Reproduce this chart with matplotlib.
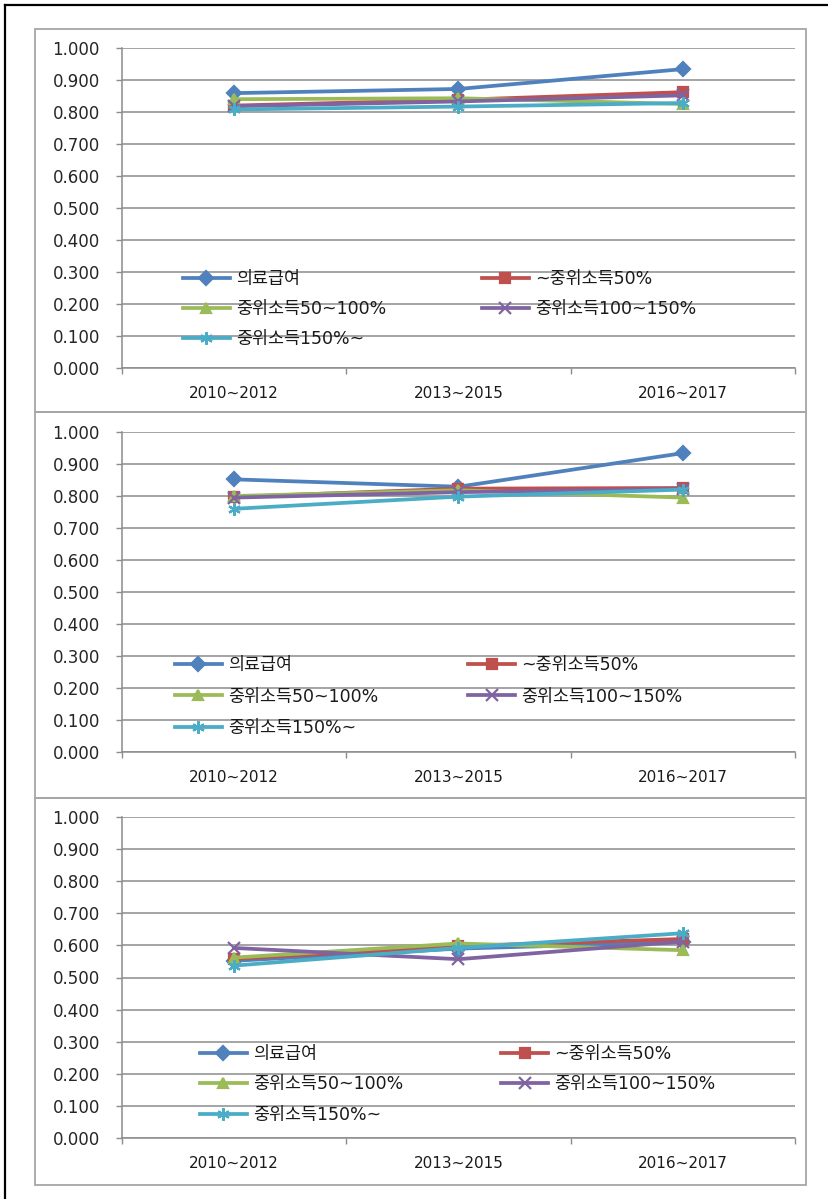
import matplotlib
matplotlib.use("Agg")
import matplotlib.pyplot as plt
from matplotlib.lines import Line2D
from matplotlib.patches import Rectangle
from matplotlib.ticker import FixedLocator, FormatStrFormatter

# ---- data -------------------------------------------------------------
periods = ["2010~2012", "2013~2015", "2016~2017"]
series_names = ["의료급여", "~중위소득50%", "중위소득50~100%",
                "중위소득100~150%", "중위소득150%~"]

panel1_medical = [0.859, 0.872, 0.934]
panel1_low = [0.820, 0.838, 0.862]
panel1_mid = [0.840, 0.843, 0.825]
panel1_upper = [0.818, 0.833, 0.852]
panel1_high = [0.808, 0.817, 0.828]

panel2_medical = [0.852, 0.829, 0.934]
panel2_low = [0.797, 0.823, 0.825]
panel2_mid = [0.800, 0.818, 0.795]
panel2_upper = [0.795, 0.812, 0.822]
panel2_high = [0.760, 0.798, 0.820]

panel3_medical = [0.552, 0.590, 0.610]
panel3_low = [0.558, 0.598, 0.620]
panel3_mid = [0.562, 0.606, 0.585]
panel3_upper = [0.592, 0.557, 0.612]
panel3_high = [0.537, 0.592, 0.638]

y_ticks = [0.0, 0.1, 0.2, 0.3, 0.4, 0.5, 0.6, 0.7, 0.8, 0.9, 1.0]

panels = [
    [panel1_medical, panel1_low, panel1_mid, panel1_upper, panel1_high],
    [panel2_medical, panel2_low, panel2_mid, panel2_upper, panel2_high],
    [panel3_medical, panel3_low, panel3_mid, panel3_upper, panel3_high],
]

# ---- styling ----------------------------------------------------------
colors = ["#4F81BD", "#C0504D", "#9BBB59", "#8064A2", "#4BACC6"]
markers = ["D", "s", "^", "x", (6, 2, 0)]
marker_sizes = [7, 7, 7, 8, 9]
grid_color = "#8C8C8C"
frame_color = "#A6A6A6"
text_color = "#262626"

plt.rcParams["font.family"] = ["DejaVu Sans", "Noto Sans CJK KR"]

W, H = 829, 1199
fig = plt.figure(figsize=(W / 100, H / 100), dpi=100)


def fx(px):
    return px / W


def fy(py):
    return 1 - py / H


# outer border (top and left edges)
fig.add_artist(Line2D([fx(5), fx(829)], [fy(4.5), fy(4.5)], color="black", lw=1.6))
fig.add_artist(Line2D([fx(5), fx(5)], [fy(4.5), fy(1199)], color="black", lw=1.6))

# panel frames
panel_tops = [29, 412, 798]
panel_bottoms = [412, 798, 1185]
for top, bottom in zip(panel_tops, panel_bottoms):
    fig.add_artist(Rectangle((fx(35), fy(bottom)), fx(806) - fx(35), fy(top) - fy(bottom),
                             transform=fig.transFigure, fill=False,
                             edgecolor=frame_color, lw=1.3))

# plot areas (pixel positions of the 1.000 and 0.000 gridlines)
axis_top = [48, 432, 817]
axis_bottom = [368, 752, 1138]
axis_left, axis_right = 122, 795

# legend placement: (left of first handle, top of first row), column gap, row gap
legend_layout = [
    ((183, 270), 5.5, 0.68),
    ((175, 656), 5.2, 0.78),
    ((200, 1045), 5.65, 0.72),
]
legend_size = 12.5

for idx, data in enumerate(panels):
    ax = fig.add_axes([fx(axis_left), fy(axis_bottom[idx]),
                       fx(axis_right) - fx(axis_left),
                       fy(axis_top[idx]) - fy(axis_bottom[idx])])
    x = list(range(len(periods)))
    handles = []
    for k, values in enumerate(data):
        (ln,) = ax.plot(x, values, color=colors[k], lw=2.7, marker=markers[k],
                        markersize=marker_sizes[k], markeredgewidth=1.6,
                        markeredgecolor=colors[k], markerfacecolor=colors[k],
                        label=series_names[k], zorder=3 + k, clip_on=False)
        handles.append(ln)

    ax.set_xlim(-0.5, len(periods) - 0.5)
    ax.set_ylim(0, 1)
    ax.yaxis.set_major_locator(FixedLocator(y_ticks))
    ax.yaxis.set_major_formatter(FormatStrFormatter("%.3f"))
    ax.set_xticks(x)
    ax.set_xticklabels(periods)
    ax.set_xticks([i - 0.5 for i in range(len(periods) + 1)], minor=True)
    ax.tick_params(axis="x", which="major", length=0, pad=13,
                   labelsize=11, labelcolor="#1A1A1A")
    ax.tick_params(axis="x", which="minor", length=4, width=1, color=grid_color)
    ax.tick_params(axis="y", which="major", length=4, width=1, color=grid_color,
                   pad=12, labelsize=12, labelcolor=text_color)
    ax.grid(axis="y", color=grid_color, lw=1.1)
    ax.set_axisbelow(True)
    for side in ("top", "right"):
        ax.spines[side].set_visible(False)
    for side in ("left", "bottom"):
        ax.spines[side].set_color(grid_color)
        ax.spines[side].set_linewidth(1.1)

    # legend entries read row by row across two columns
    order = [0, 2, 4, 1, 3]
    (lx, ly), colgap, rowgap = legend_layout[idx]
    ax.legend([handles[i] for i in order], [series_names[i] for i in order],
              ncol=2, loc="upper left", frameon=False,
              bbox_to_anchor=(fx(lx), fy(ly)), bbox_transform=fig.transFigure,
              borderpad=0, borderaxespad=0, handlelength=2.7, handletextpad=0.35,
              columnspacing=colgap, labelspacing=rowgap,
              prop={"family": ["DejaVu Sans", "Noto Sans CJK KR"], "size": legend_size},
              labelcolor="#1A1A1A")

fig.savefig("out.png", dpi=100)
